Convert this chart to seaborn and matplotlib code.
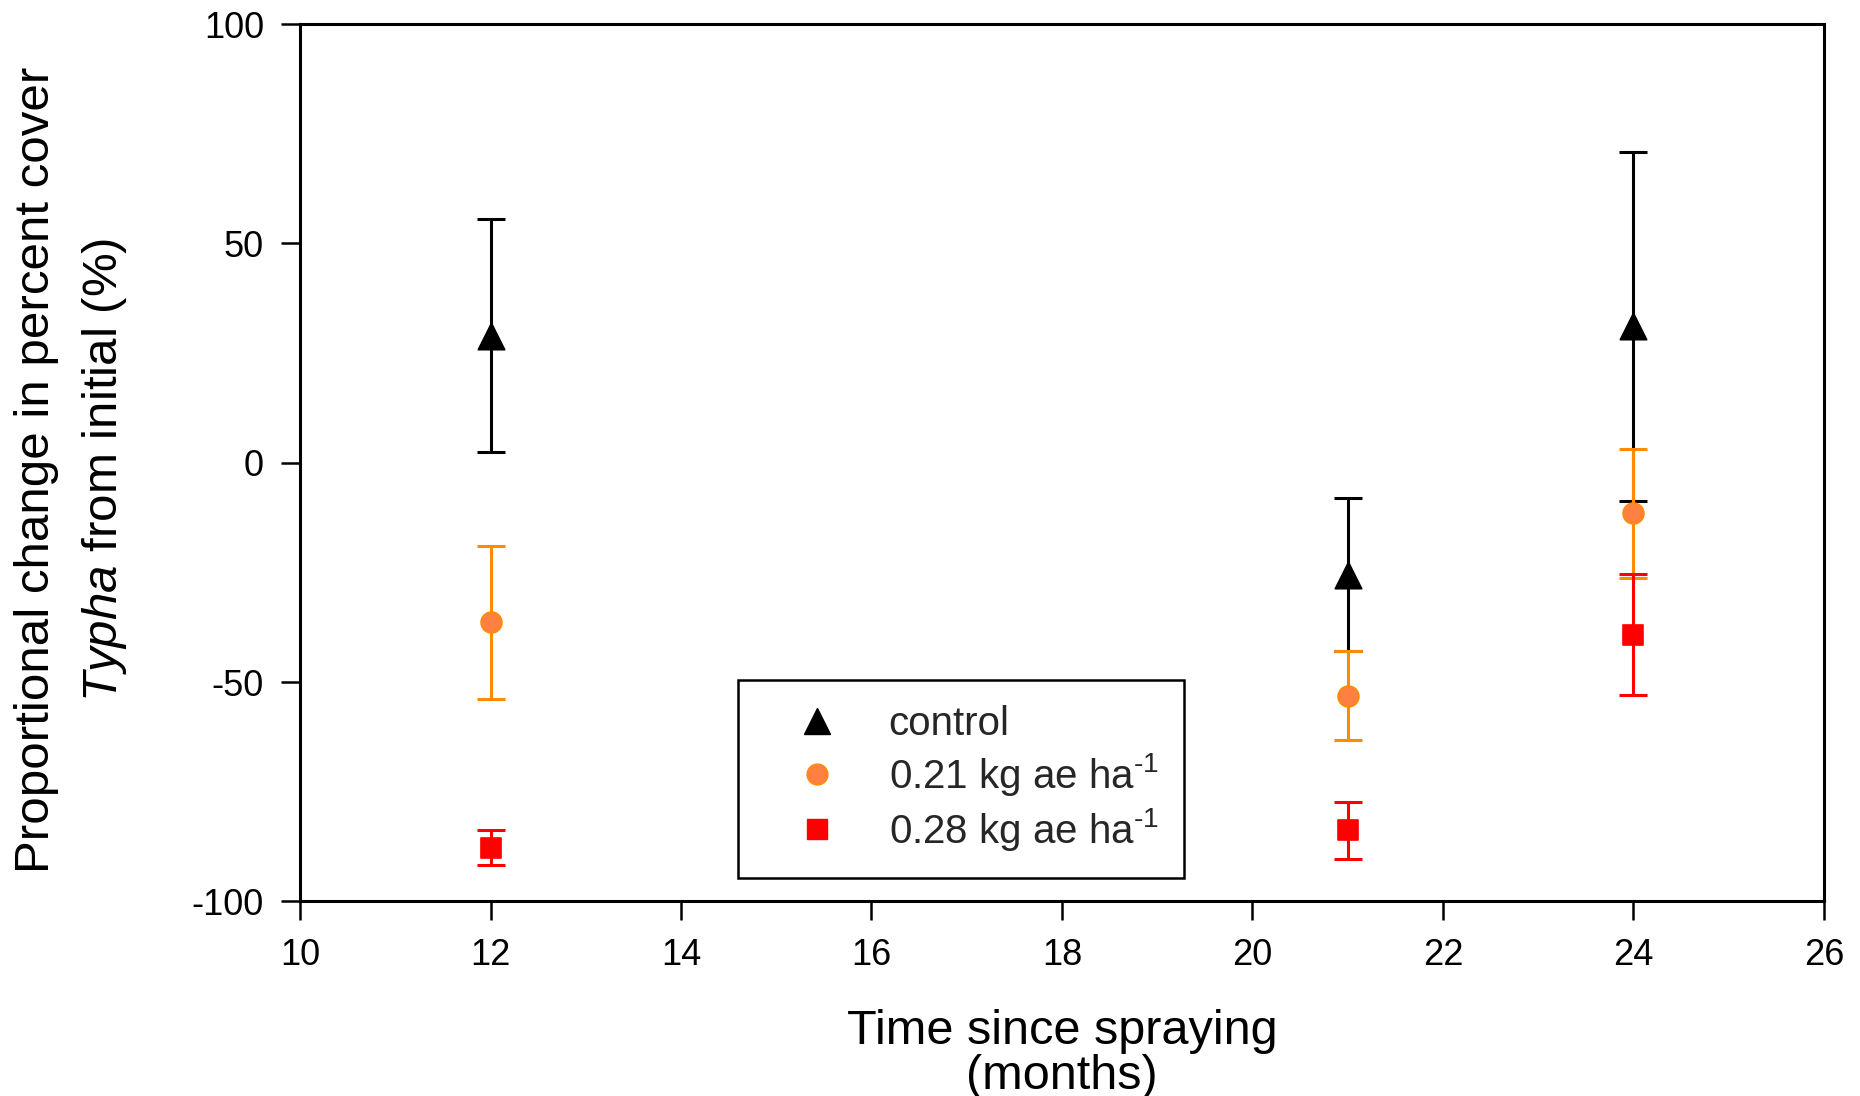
import numpy as np
import pandas as pd
import matplotlib
matplotlib.use("Agg")
import matplotlib.pyplot as plt
import seaborn as sns
from matplotlib.lines import Line2D
from matplotlib import font_manager as fm

# ---- data ----
months = [12, 21, 24]
control_mean = [29.0, -25.5, 31.1]
control_err = [26.6, 17.5, 39.7]
low_mean = [-36.4, -53.1, -11.5]
low_err = [17.5, 10.1, 14.7]
high_mean = [-87.7, -83.8, -39.2]
high_err = [3.9, 6.5, 13.8]
series_labels = ["control", "0.21 kg ae ha$^{\\text{-1}}$", "0.28 kg ae ha$^{\\text{-1}}$"]
x_ticks = [10, 12, 14, 16, 18, 20, 22, 24, 26]
y_ticks = [-100, -50, 0, 50, 100]

df = pd.DataFrame({
    "month": months * 3,
    "mean": control_mean + low_mean + high_mean,
    "err": control_err + low_err + high_err,
    "treatment": [series_labels[0]] * 3 + [series_labels[1]] * 3 + [series_labels[2]] * 3,
})

sns.set_theme(style="ticks")
plt.rcParams["font.family"] = ["Liberation Sans", "DejaVu Sans"]
plt.rcParams["mathtext.fontset"] = "custom"
plt.rcParams["mathtext.rm"] = "Liberation Sans"
plt.rcParams["mathtext.bf"] = "Liberation Sans:bold"

try:
    fm.findfont(fm.FontProperties(family="Liberation Sans Narrow"), fallback_to_default=False)
    has_narrow = True
except Exception:
    has_narrow = False

if has_narrow:
    ylab_family = ["Liberation Sans Narrow", "Liberation Sans", "DejaVu Sans"]
    ylab_size = 43
    ylab_ls = 1.27
    plt.rcParams["mathtext.it"] = "Liberation Sans Narrow:italic"
else:
    ylab_family = ["Liberation Sans", "DejaVu Sans"]
    ylab_size = 35.5
    ylab_ls = 1.55
    plt.rcParams["mathtext.it"] = "Liberation Sans:italic"

styles = {
    series_labels[0]: dict(marker="^", face="black", edge="black", ecolor="black", ms=19),
    series_labels[1]: dict(marker="o", face="#FF8040", edge="#FF8C00", ecolor="#FF8C00", ms=15),
    series_labels[2]: dict(marker="s", face="#FF0000", edge="#FF0000", ecolor="#FF0000", ms=15),
}

fig, ax = plt.subplots(figsize=(18.6, 10.96), dpi=100)
fig.subplots_adjust(left=0.1613, right=0.9806, bottom=0.1775, top=0.978)

for i, lab in enumerate(series_labels):
    sub = df[df["treatment"] == lab]
    st = styles[lab]
    ax.errorbar(sub["month"], sub["mean"], yerr=sub["err"], fmt="none",
                ecolor=st["ecolor"], elinewidth=2.2, capsize=10, capthick=2.2,
                zorder=2 + i)
    sns.scatterplot(data=sub, x="month", y="mean", marker=st["marker"],
                    color=st["face"], edgecolor=st["edge"], linewidth=1.2,
                    s=st["ms"] ** 2, ax=ax, zorder=5 + i, legend=False)

ax.set_xlim(10, 26)
ax.set_ylim(-100, 100)
ax.set_xticks(x_ticks)
ax.set_yticks(y_ticks)
ax.set_xticklabels([str(t) for t in x_ticks])
ax.set_yticklabels([str(t) for t in y_ticks])

for sp in ax.spines.values():
    sp.set_visible(True)
    sp.set_linewidth(2.2)
    sp.set_color("black")

ax.tick_params(axis="both", direction="out", length=14, width=1.8,
               colors="black", labelsize=26, pad=12)

ax.set_xlabel("Time since spraying\n(months)", fontsize=35, linespacing=1.0,
              color="black")
ax.xaxis.set_label_coords(0.5, -0.174)
ax.xaxis.label.set_va("center")

ax.set_ylabel("Proportional change in percent cover\n$\\mathit{Typha}$ from initial (%)",
              fontsize=ylab_size, color="black", linespacing=ylab_ls,
              family=ylab_family)
ax.yaxis.set_label_coords(-0.150, 0.492)
ax.yaxis.label.set_va("center")

handles = [Line2D([], [], linestyle="none", marker=styles[l]["marker"],
                  markerfacecolor=styles[l]["face"], markeredgecolor=styles[l]["edge"],
                  markersize=styles[l]["ms"]) for l in series_labels]
leg = ax.legend(handles, series_labels, loc="upper left",
                bbox_to_anchor=(738 / 1860, 1 - 680 / 1096),
                bbox_transform=fig.transFigure, borderaxespad=0,
                fontsize=29, frameon=True, fancybox=False, framealpha=1,
                edgecolor="black", borderpad=0.62, handlelength=2.7,
                handletextpad=0.42, labelspacing=0.2)
leg.get_frame().set_linewidth(1.8)

fig.savefig("out.png", dpi=100)
